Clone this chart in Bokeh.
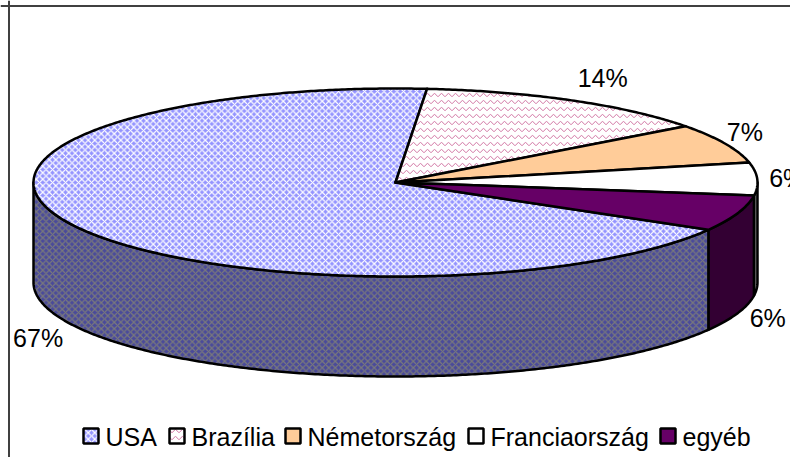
import math
from bokeh.plotting import figure
from bokeh.models import Range1d, Span
from bokeh.core.properties import value
from bokeh.embed import file_html
from bokeh.resources import INLINE

categories = ["USA", "Brazília", "Németország", "Franciaország", "egyéb"]
shares = [68.0, 13.4, 6.8, 5.6, 6.2]   # shares as drawn
labels = ["67%", "14%", "7%", "6%", "6%"]

# layout
W, H = 790, 457
CX, CY, RX, RY, DEPTH = 395, 182, 362, 94, 100
START = 5.0          # degrees clockwise from the top, where the first slice ends
FONT = value("Liberation Sans")
FS = "25px"
LW = 2.5

tops = [
    dict(fill_color="#9494ff", hatch_pattern="diagonal_cross", hatch_color="#ffffff", hatch_scale=6.5, hatch_weight=1.2),
    dict(fill_color="#ffffff", hatch_pattern="horizontal_wave", hatch_color="#cc6699", hatch_scale=7, hatch_weight=0.9),
    dict(fill_color="#ffcc99"),
    dict(fill_color="#ffffff"),
    dict(fill_color="#660066"),
]
sides = [
    dict(fill_color="#4a4a9a", hatch_pattern="diagonal_cross", hatch_color="#7a7a7a", hatch_scale=6.5, hatch_weight=1.2),
    dict(fill_color="#7f7f7f"),
    dict(fill_color="#7f6040"),
    dict(fill_color="#808080"),
    dict(fill_color="#330033"),
]
label_off = [(-36, 112), (31, -22), (20, -11), (30, -1), (30, 105)]
legend_x = [83, 169, 285, 468, 660]

p = figure(width=W, height=H, output_backend="svg", toolbar_location=None,
           x_range=Range1d(0, W), y_range=Range1d(H, 0),
           min_border=0, outline_line_color=None)
p.axis.visible = False
p.grid.visible = False
p.background_fill_color = "white"

p.add_layout(Span(location=5.5, dimension="width", line_color="#404040", line_width=2))
p.add_layout(Span(location=8.5, dimension="height", line_color="#404040", line_width=2))


def pt(t, dy=0):
    a = math.radians(t)
    return CX + RX * math.sin(a), CY - RY * math.cos(a) + dy


def arc(a, b, dy=0):
    n = max(2, int(abs(b - a) * 2))
    return [pt(a + (b - a) * i / n, dy) for i in range(n + 1)]


# slice boundaries: clockwise from the top. USA ends at START, the others follow.
t = START
spans = []
for s in shares[1:]:
    spans.append((t, t + s * 3.6))
    t += s * 3.6
spans.insert(0, (t, START + 360))

# walls: only the front half (90..270 deg) is visible
for i, (a, b) in reversed(list(enumerate(spans))):
    for shift in (0, 360):
        lo, hi = max(a, 90 + shift), min(b, 270 + shift)
        if hi > lo:
            poly = arc(lo, hi) + arc(hi, lo, DEPTH)
            p.patch([q[0] for q in poly], [q[1] for q in poly],
                    line_color="black", line_width=LW, line_join="round", **sides[i])

# top faces
for i, (a, b) in enumerate(spans):
    poly = [(CX, CY)] + arc(a, b)
    p.patch([q[0] for q in poly], [q[1] for q in poly],
            line_color="black", line_width=LW, line_join="round", **tops[i])

# percentage labels
for i, (a, b) in enumerate(spans):
    x, y = pt((a + b) / 2)
    p.text([x], [y], text=[labels[i]], text_font=FONT, text_font_size=FS, text_color="black",
           text_align="center", text_baseline="middle",
           x_offset=label_off[i][0], y_offset=label_off[i][1])

# legend
for i, c in enumerate(categories):
    x = legend_x[i]
    p.quad(left=[x], right=[x + 15], top=[428], bottom=[443], line_color="black", line_width=LW, **tops[i])
    p.text([x + 22], [436], text=[c], text_font=FONT, text_font_size=FS, text_color="black",
           text_align="left", text_baseline="middle")

open("out.html", "w").write(file_html(p, INLINE))
